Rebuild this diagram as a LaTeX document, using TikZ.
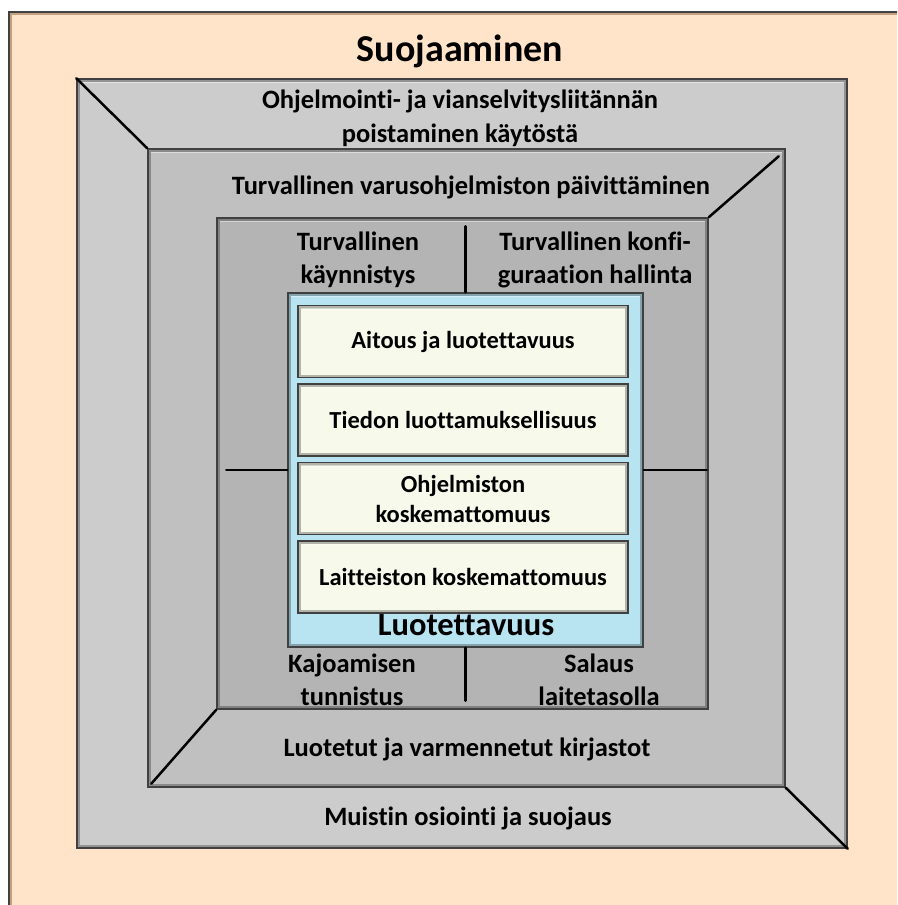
\documentclass[tikz,border=0pt]{standalone}
\usepackage{fontspec}
\setmainfont{Carlito}[Ligatures=NoCommon]
\usetikzlibrary{positioning}
\definecolor{peach}{RGB}{255,228,202}
\definecolor{tan}{RGB}{196,160,130}
\definecolor{grayA}{RGB}{204,204,204}
\definecolor{grayB}{RGB}{192,192,192}
\definecolor{grayC}{RGB}{180,180,180}
\definecolor{iceblue}{RGB}{183,228,240}
\definecolor{cream}{RGB}{247,250,235}

\begin{document}
\begin{tikzpicture}[x=1pt, y=-1pt,
     frame/.style = {shape=rectangle, draw=black!75, line width=1.5pt, inner sep=0pt,
         path picture={
           \draw[black, opacity=.28, line width=6pt] (path picture bounding box.south west) rectangle (path picture bounding box.north east);
           \draw[white, opacity=.45, line width=1.5pt] ([shift={(3pt,-3.5pt)}]path picture bounding box.north west) -- ([shift={(-3pt,-3.5pt)}]path picture bounding box.north east);
         }},
     ring/.style = {font=\bfseries\fontsize{26.5}{33.5}\selectfont, align=center, inner sep=0pt},
     pillar/.style = {frame, fill=cream, minimum width=330pt, minimum height=72pt,
         font=\bfseries\fontsize{24.5}{30}\selectfont, align=center},
     divider/.style = {line width=2.5pt, line cap=round}]
  \useasboundingbox (0,0) rectangle (897,905);
  \clip (0,0) rectangle (897,905);

  % outer page
  \node [shape=rectangle, draw=black!75, line width=2pt, fill=peach, inner sep=0pt,
         minimum width=920pt, minimum height=920pt, anchor=north west] (page) at (8,11) {};
  \draw [tan, line width=2pt] ([shift={(2.5pt,-920pt)}]page.north west) -- ([shift={(2.5pt,-2.5pt)}]page.north west) -- ([shift={(0pt,-2.5pt)}]page.north east);

  % nested rings
  \node [frame, fill=grayA, minimum width=770pt, minimum height=769pt] (lvl1) at (462,463.5) {};
  \node [frame, fill=grayB, minimum width=637pt, minimum height=638pt] (lvl2) at (466.5,468) {};
  \node [frame, fill=grayC, minimum width=491pt, minimum height=491pt] (lvl3) at (462.5,463.5) {};
  \node [frame, fill=iceblue, minimum width=355pt, minimum height=354pt] (core) at (465.5,470) {};

  % corner seams
  \draw [divider] (lvl1.north west) -- (lvl2.north west);
  \draw [divider] ([shift={(-7pt,-8pt)}]lvl2.north east) -- (lvl3.north east);
  \draw [divider] (lvl3.south west) -- ([shift={(4pt,4pt)}]lvl2.south west);
  \draw [divider] (lvl2.south east) -- (lvl1.south east);

  % core spokes
  \draw [divider] (core.north) -- ([yshift=-9pt]core.north |- lvl3.north);
  \draw [divider] (core.south) -- ([yshift=9pt]core.south |- lvl3.south);
  \draw [divider] (core.west) -- ([xshift=10pt]core.west -| lvl3.west);
  \draw [divider] (core.east) -- ([xshift=-2pt]core.east -| lvl3.east);

  % pillars
  \node [pillar] (auth) at (463,341.5) {Aitous ja luotettavuus};
  \node [pillar, below=5pt of auth] (conf) {Tiedon luottamuksellisuus};
  \node [pillar, below=5pt of conf] (swint) {Ohjelmiston\\koskemattomuus};
  \node [pillar, below=5pt of swint] (hwint) {Laitteiston koskemattomuus};
  \node [font=\bfseries\fontsize{32.5}{34}\selectfont, inner sep=0pt] (trust) at (466,625) {Luotettavuus};

  % labels
  \node [font=\bfseries\fontsize{38}{40}\selectfont, inner sep=0pt] (title) at (460,51) {Suojaaminen};
  \node [ring] (debug) at (460,118.5) {Ohjelmointi- ja vianselvitysliitännän\\poistaminen käytöstä};
  \node [ring] (fwupd) at (471,187) {Turvallinen varusohjelmiston päivittäminen};
  \node [ring] (boot) at (358,260) {Turvallinen\\käynnistys};
  \node [ring] (config) at (595,260) {Turvallinen konfi-\\guraation hallinta};
  \node [ring] (tamper) at (352,680) {Kajoamisen\\tunnistus};
  \node [ring] (crypt) at (599,680) {Salaus\\laitetasolla};
  \node [ring] (libs) at (467,749) {Luotetut ja varmennetut kirjastot};
  \node [ring] (memory) at (468,818) {Muistin osiointi ja suojaus};
\end{tikzpicture}
\end{document}
